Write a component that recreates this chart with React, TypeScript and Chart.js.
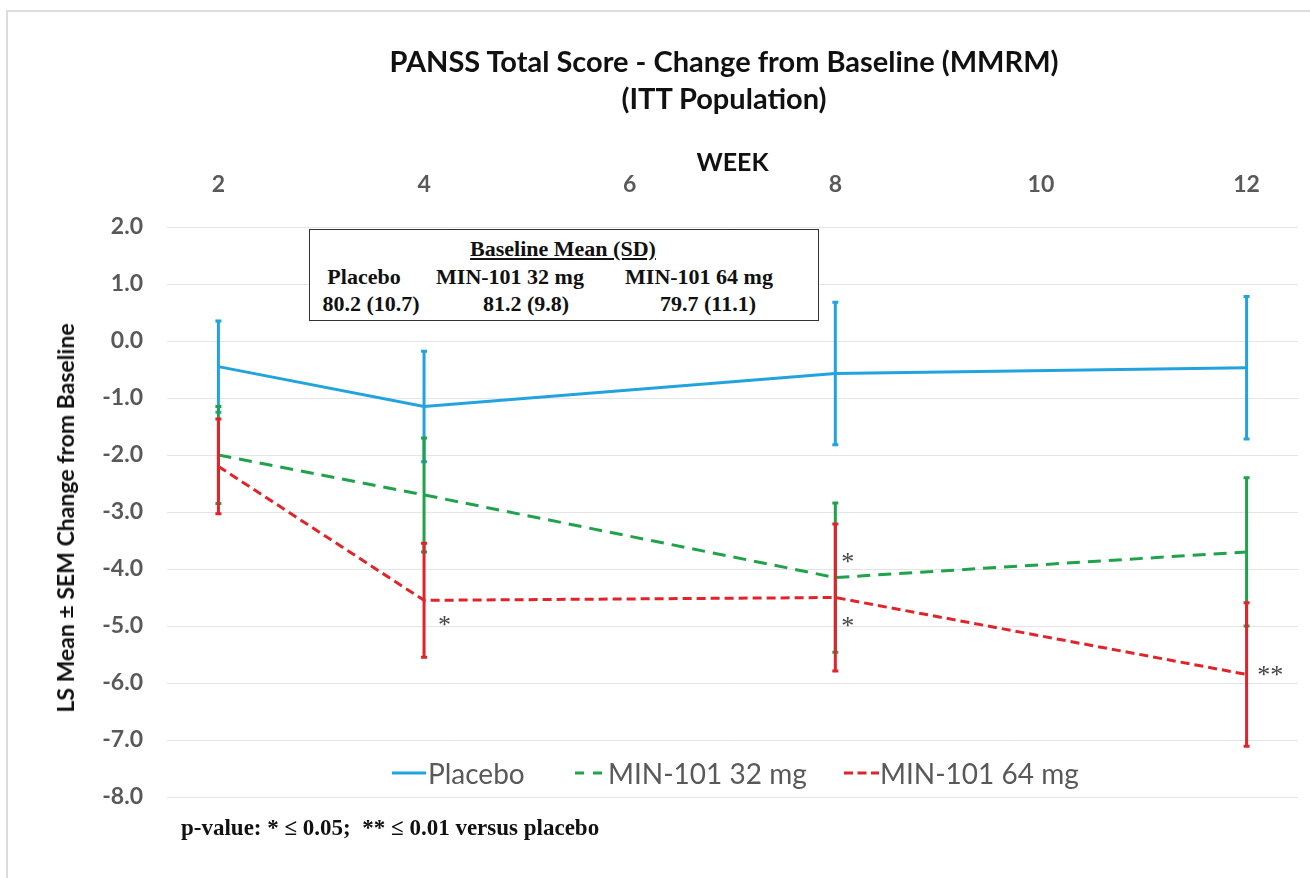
import { useEffect, useRef } from "react";
import { Chart, registerables } from "chart.js";

Chart.register(...registerables);

// weeks with measurements
const weeks = [2, 4, 8, 12];
const weekTicks = [2, 4, 6, 8, 10, 12];

const seriesNames = ["Placebo", "MIN-101 32 mg", "MIN-101 64 mg"];
const seriesColors = ["#22a3dd", "#20a24b", "#e1232a"];

const placeboMean = [-0.45, -1.15, -0.57, -0.47];
const placeboSem = [0.8, 0.97, 1.25, 1.25];
const mg32Mean = [-2.0, -2.7, -4.15, -3.7];
const mg32Sem = [0.85, 1.0, 1.31, 1.3];
const mg64Mean = [-2.2, -4.55, -4.5, -5.85];
const mg64Sem = [0.83, 1.0, 1.29, 1.26];

// significance marks
const starWeeks = [4.2, 8.12, 8.12, 12.23];
const starValues = [-4.95, -3.84, -4.96, -5.82];
const starLabels = ["*", "*", "*", "**"];

const baselineGroups = ["Placebo", "MIN-101 32 mg", "MIN-101 64 mg"];
const baselineValues = ["80.2 (10.7)", "81.2 (9.8)", "79.7 (11.1)"];

const means = [placeboMean, mg32Mean, mg64Mean];
const sems = [placeboSem, mg32Sem, mg64Sem];
const dashes: number[][] = [[], [13, 8], [9, 5]];

const sans = "Lato, 'Open Sans', sans-serif";
const serif = "'Liberation Serif', 'DejaVu Serif', serif";
const tickGray = "#595959";

const errorBars = {
  id: "errorBars",
  afterDatasetsDraw(chart: Chart) {
    const { ctx } = chart;
    const xs = chart.scales.x;
    const ys = chart.scales.y;

    means.forEach((m, i) => {
      ctx.save();
      ctx.strokeStyle = seriesColors[i];
      ctx.lineWidth = 3;
      weeks.forEach((w, j) => {
        const px = xs.getPixelForValue(w);
        const top = ys.getPixelForValue(m[j] + sems[i][j]);
        const bottom = ys.getPixelForValue(m[j] - sems[i][j]);
        ctx.beginPath();
        ctx.moveTo(px, top);
        ctx.lineTo(px, bottom);
        ctx.moveTo(px - 3, top);
        ctx.lineTo(px + 3, top);
        ctx.moveTo(px - 3, bottom);
        ctx.lineTo(px + 3, bottom);
        ctx.stroke();
      });
      ctx.restore();
    });

    ctx.save();
    ctx.fillStyle = "#444";
    ctx.font = `26px ${serif}`;
    ctx.textAlign = "center";
    ctx.textBaseline = "middle";
    starLabels.forEach((label, k) => {
      const px = xs.getPixelForValue(starWeeks[k]);
      const py = ys.getPixelForValue(starValues[k]);
      ctx.fillText(label, px, py + 3);
    });
    ctx.restore();
  },
};

function PanssChart() {
  const canvasRef = useRef<HTMLCanvasElement | null>(null);
  const chartRef = useRef<Chart | null>(null);

  useEffect(() => {
    const canvas = canvasRef.current;
    if (!canvas) {
      return;
    }

    chartRef.current?.destroy();

    chartRef.current = new Chart(canvas, {
      type: "line",
      data: {
        datasets: seriesNames.map((name, i) => ({
          label: name,
          data: weeks.map((w, j) => ({ x: w, y: means[i][j] })),
          borderColor: seriesColors[i],
          backgroundColor: seriesColors[i],
          borderWidth: 3,
          borderDash: dashes[i],
          pointRadius: 0,
          tension: 0,
          fill: false,
        })),
      },
      options: {
        responsive: false,
        animation: false,
        layout: {
          padding: { left: 0, top: 0, right: 12, bottom: 81 },
        },
        plugins: {
          legend: { display: false },
          title: { display: false },
          tooltip: { enabled: false },
        },
        scales: {
          x: {
            type: "linear",
            position: "top",
            min: 1.5,
            max: 12.5,
            afterBuildTicks: (scale) => {
              scale.ticks = weekTicks.map((v) => ({ value: v }));
            },
            afterFit: (scale) => {
              scale.height = 227;
            },
            grid: { display: false },
            border: { display: false },
            ticks: {
              color: tickGray,
              padding: 21,
              font: { family: sans, size: 23, weight: "bold" },
            },
            title: {
              display: true,
              text: "WEEK",
              color: "#111",
              font: { family: sans, size: 25, weight: "bold" },
              padding: { top: 148, bottom: 0 },
            },
          },
          y: {
            min: -8,
            max: 2,
            afterFit: (scale) => {
              scale.width = 167;
            },
            grid: { color: "#e4e4e4", lineWidth: 1, drawTicks: false },
            border: { display: false },
            ticks: {
              stepSize: 1,
              color: tickGray,
              padding: 24,
              font: { family: sans, size: 23, weight: "bold" },
              callback: (v) => Number(v).toFixed(1),
            },
          },
        },
      },
      plugins: [errorBars],
    });

    return () => {
      chartRef.current?.destroy();
      chartRef.current = null;
    };
  }, []);

  return <canvas ref={canvasRef} width={1310} height={878} style={{ position: "absolute", left: 0, top: 0 }} />;
}

const centered = (x: number, y: number): React.CSSProperties => ({
  position: "absolute",
  left: x,
  top: y,
  transform: "translate(-50%, -50%)",
  whiteSpace: "pre",
});

export default function App() {
  const legendLeft = [392, 572, 844];
  return (
    <div style={{ position: "absolute", left: 0, top: 0, width: 1310, height: 878, background: "#fff", overflow: "hidden" }}>
      <div style={{ position: "absolute", left: 6, top: 10, right: -4, bottom: -4, borderTop: "2px solid #dcdcdc", borderLeft: "2px solid #dcdcdc" }} />
      <PanssChart />

      <div style={{ ...centered(724, 60), fontFamily: sans, fontWeight: 700, fontSize: 29, color: "#111" }}>
        PANSS Total Score - Change from Baseline (MMRM)
      </div>
      <div style={{ ...centered(724, 97), fontFamily: sans, fontWeight: 700, fontSize: 29, color: "#111" }}>
        (ITT Population)
      </div>

      <div
        style={{
          ...centered(65, 518),
          transform: "translate(-50%, -50%) rotate(-90deg)",
          fontFamily: sans,
          fontWeight: 700,
          fontSize: 23,
          color: "#111",
        }}
      >
        LS Mean ± SEM Change from Baseline
      </div>

      <div style={{ position: "absolute", left: 309, top: 229, width: 510, height: 92, border: "1.5px solid #333", boxSizing: "border-box", background: "#fff" }} />
      <div style={{ ...centered(563, 249), fontFamily: serif, fontWeight: 700, fontSize: 22, color: "#111", textDecoration: "underline" }}>
        Baseline Mean (SD)
      </div>
      {baselineGroups.map((g, i) => (
        <div key={g} style={{ ...centered([364, 510, 699][i], 277), fontFamily: serif, fontWeight: 700, fontSize: 22, color: "#111" }}>
          {g}
        </div>
      ))}
      {baselineValues.map((v, i) => (
        <div key={v} style={{ ...centered([371, 526, 708][i], 304), fontFamily: serif, fontWeight: 700, fontSize: 22, color: "#111" }}>
          {v}
        </div>
      ))}

      {seriesNames.map((name, i) => (
        <div
          key={name}
          style={{ position: "absolute", left: legendLeft[i], top: 773, transform: "translateY(-50%)", display: "flex", alignItems: "center", whiteSpace: "pre" }}
        >
          <svg width={36} height={6} style={{ display: "block" }}>
            {i === 0 && <line x1={0} y1={3} x2={34} y2={3} stroke={seriesColors[i]} strokeWidth={3} />}
            {i === 1 && <line x1={3} y1={3} x2={30} y2={3} stroke={seriesColors[i]} strokeWidth={3} strokeDasharray="9 9" />}
            {i === 2 && <line x1={0} y1={3} x2={35} y2={3} stroke={seriesColors[i]} strokeWidth={3} strokeDasharray="9 4.5" />}
          </svg>
          <span style={{ fontFamily: sans, fontSize: 28, color: tickGray, marginLeft: 0 }}>{name}</span>
        </div>
      ))}

      <div style={{ position: "absolute", left: 181, top: 828, transform: "translateY(-50%)", fontFamily: serif, fontWeight: 700, fontSize: 23, color: "#111", whiteSpace: "pre" }}>
        {"p-value: * ≤ 0.05;  ** ≤ 0.01 versus placebo"}
      </div>
    </div>
  );
}
